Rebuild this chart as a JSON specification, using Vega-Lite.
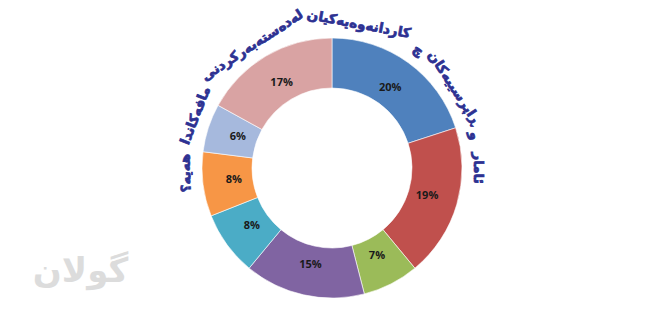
{
  "$schema": "https://vega.github.io/schema/vega-lite/v6.json",
  "width": 650,
  "height": 290,
  "autosize": "none",
  "padding": {"left": 7, "top": 23, "right": 0, "bottom": 0},
  "background": "white",
  "view": {"stroke": null},
  "datasets": {
    "slices": [
      {"idx": 1, "group": "A", "share": 20},
      {"idx": 2, "group": "B", "share": 19},
      {"idx": 3, "group": "C", "share": 7},
      {"idx": 4, "group": "D", "share": 15},
      {"idx": 5, "group": "E", "share": 8},
      {"idx": 6, "group": "F", "share": 8},
      {"idx": 7, "group": "G", "share": 6},
      {"idx": 8, "group": "H", "share": 17}
    ],
    "titlewords": [
      {"idx": 1, "word": "ئامار"},
      {"idx": 2, "word": "و"},
      {"idx": 3, "word": "ڕاپرسییەکان"},
      {"idx": 4, "word": "چ"},
      {"idx": 5, "word": "کاردانەوەیەکیان"},
      {"idx": 6, "word": "لەدەستەبەرکردنی"},
      {"idx": 7, "word": "مافەکاندا"},
      {"idx": 8, "word": "هەیە؟"}
    ]
  },
  "resolve": {"scale": {"theta": "independent"}},
  "layer": [
    {
      "data": {"name": "slices"},
      "mark": {"type": "arc", "innerRadius": 80, "outerRadius": 130, "stroke": "white", "strokeWidth": 0.6},
      "encoding": {
        "theta": {"field": "share", "type": "quantitative", "stack": true},
        "order": {"field": "idx", "type": "quantitative"},
        "color": {
          "field": "group",
          "type": "nominal",
          "legend": null,
          "scale": {
            "domain": ["A", "B", "C", "D", "E", "F", "G", "H"],
            "range": ["#4F81BD", "#C0504D", "#9BBB59", "#8064A2", "#4BACC6", "#F79646", "#A6B9DD", "#D9A3A3"]
          }
        }
      }
    },
    {
      "data": {"name": "slices"},
      "transform": [{"calculate": "datum.share + '%'", "as": "label"}],
      "mark": {"type": "text", "radius": 99, "font": "Open Sans", "fontWeight": "bold", "fontSize": 11, "fill": "#1a1a1a"},
      "encoding": {
        "theta": {"field": "share", "type": "quantitative", "stack": true},
        "order": {"field": "idx", "type": "quantitative"},
        "detail": {"field": "group"},
        "text": {"field": "label"}
      }
    },
    {
      "data": {"name": "titlewords"},
      "transform": [
        {"calculate": "length(datum.word) + 2", "as": "len"},
        {"stack": "len", "groupby": [], "sort": [{"field": "idx", "order": "descending"}], "as": ["c0", "c1"]},
        {"calculate": "(datum.c0 + datum.c1) / 2", "as": "mid"}
      ],
      "mark": {"type": "text", "radius": 146, "font": "DejaVu Sans", "fontWeight": "bold", "fontSize": 13.5, "fill": "#2D3192", "stroke": "#2D3192", "strokeWidth": 0.7, "baseline": "middle", "align": "center"},
      "encoding": {
        "theta": {"field": "mid", "type": "quantitative", "scale": {"domain": [0, 78], "range": [-1.763, 1.728], "zero": false, "nice": false}},
        "angle": {"field": "mid", "type": "quantitative", "scale": {"domain": [0, 78], "range": [-101, 99], "zero": false, "nice": false}},
        "text": {"field": "word"}
      }
    },
    {
      "data": {"values": [{"name": "گولان"}]},
      "mark": {"type": "text", "theta": -1.962, "radius": 272, "font": "DejaVu Sans", "fontWeight": "bold", "fontSize": 34, "fill": "#dcdcdc", "baseline": "middle", "align": "center"},
      "encoding": {"text": {"field": "name"}}
    }
  ]
}
